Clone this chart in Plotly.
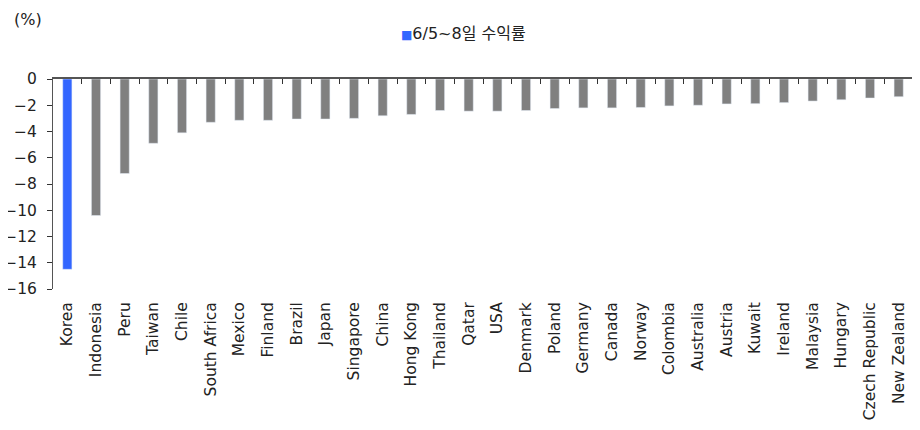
import plotly.graph_objects as go

countries = [
    "Korea", "Indonesia", "Peru", "Taiwan", "Chile", "South Africa", "Mexico",
    "Finland", "Brazil", "Japan", "Singapore", "China", "Hong Kong", "Thailand",
    "Qatar", "USA", "Denmark", "Poland", "Germany", "Canada", "Norway",
    "Colombia", "Australia", "Austria", "Kuwait", "Ireland", "Malaysia",
    "Hungary", "Czech Republic", "New Zealand",
]
returns = [
    -14.5, -10.4, -7.2, -4.9, -4.1, -3.3, -3.15, -3.15, -3.05, -3.05, -3.0,
    -2.8, -2.7, -2.4, -2.45, -2.45, -2.4, -2.25, -2.2, -2.2, -2.17, -2.05,
    -2.0, -1.9, -1.88, -1.8, -1.68, -1.58, -1.45, -1.35,
]
series_name = "6/5~8일 수익률"
highlight = "Korea"

FONT = "DejaVu Sans, Noto Sans CJK KR"
BLUE = "#3366ff"
GRAY = "#808080"

colors = [BLUE if c == highlight else GRAY for c in countries]

fig = go.Figure()
fig.add_trace(
    go.Bar(
        x=countries,
        y=returns,
        name=series_name,
        marker={"color": colors, "line": {"width": 0}},
        width=0.32,
    )
)
# invisible copy on the top axis, only to draw the zero line with its ticks
fig.add_trace(
    go.Bar(
        x=countries,
        y=returns,
        xaxis="x2",
        marker={"color": "rgba(0,0,0,0)"},
        width=0.32,
        hoverinfo="skip",
    )
)

# the page body has an 8px margin, so the div starts at (8, 8)
fig.update_layout(
    width=920,
    height=430,
    paper_bgcolor="white",
    plot_bgcolor="white",
    margin={"l": 45, "r": 15, "t": 71, "b": 149, "autoexpand": False},
    font={"family": FONT, "size": 16, "color": "#222222"},
    showlegend=False,
    xaxis={
        "type": "category",
        "tickangle": -90,
        "showline": False,
        # transparent ticks only push the labels a little lower
        "ticks": "outside",
        "ticklen": 6,
        "tickcolor": "rgba(0,0,0,0)",
        "showgrid": False,
        "automargin": False,
        "tickfont": {"size": 15.5},
    },
    xaxis2={
        "type": "category",
        "overlaying": "x",
        "matches": "x",
        "side": "top",
        "anchor": "y",
        "showline": True,
        "linecolor": "#555555",
        "linewidth": 1.5,
        "ticks": "inside",
        "tickson": "boundaries",
        "ticklen": 5,
        "tickcolor": "#333333",
        "showticklabels": False,
        "showgrid": False,
        "automargin": False,
    },
    yaxis={
        "range": [-16, 0],
        "dtick": 2,
        "showline": True,
        "linecolor": "#555555",
        "linewidth": 1,
        "ticks": "outside",
        "ticklen": 5,
        "tickcolor": "#333333",
        "ticklabelstandoff": 7,
        "showgrid": False,
        "zeroline": False,
        "automargin": False,
        "tickfont": {"size": 15.5},
    },
    annotations=[
        {
            "text": "(%)",
            "xref": "paper",
            "yref": "paper",
            "x": -0.048,
            "y": 1.281,
            "xanchor": "left",
            "yanchor": "middle",
            "showarrow": False,
            "font": {"size": 16},
        },
        {
            # legend entry, drawn as text so the marker sits tight to the label
            "text": f"<span style='color:{BLUE}; font-size:12px'>■</span>{series_name}",
            "xref": "paper",
            "yref": "paper",
            "x": 0.402,
            "y": 1.219,
            "xanchor": "left",
            "yanchor": "middle",
            "showarrow": False,
            "font": {"size": 16},
        },
    ],
)

fig.write_html("out.html")
